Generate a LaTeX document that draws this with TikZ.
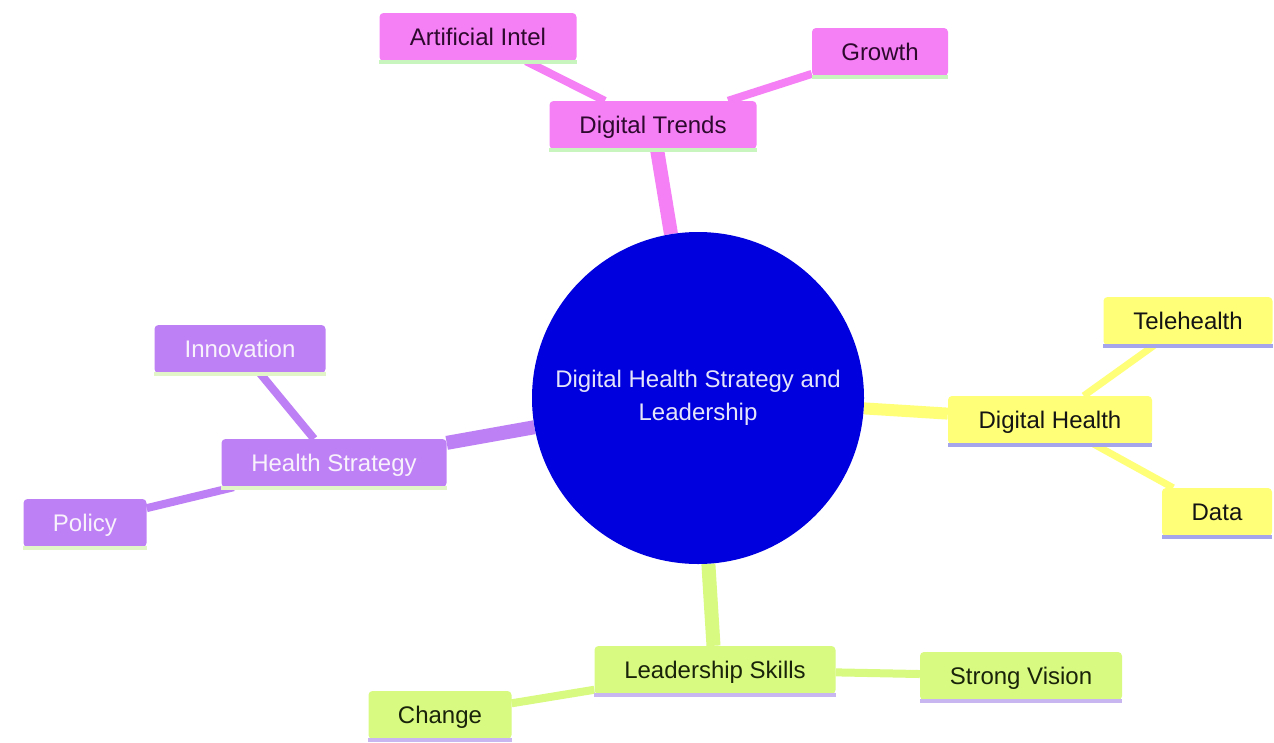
\documentclass[tikz,border=0pt]{standalone}
\usepackage{fontspec}
\setmainfont{Liberation Sans}
\usetikzlibrary{backgrounds}
\definecolor{pinkF}{RGB}{245,128,245}
\definecolor{pinkT}{RGB}{45,10,45}
\definecolor{pinkL}{RGB}{200,245,190}
\definecolor{purpF}{RGB}{190,128,245}
\definecolor{purpT}{RGB}{248,242,252}
\definecolor{purpL}{RGB}{225,245,200}
\definecolor{yelF}{RGB}{255,255,120}
\definecolor{yelT}{RGB}{20,20,20}
\definecolor{yelL}{RGB}{165,165,235}
\definecolor{limF}{RGB}{216,250,128}
\definecolor{limT}{RGB}{25,35,10}
\definecolor{limL}{RGB}{200,182,240}
\definecolor{blueF}{RGB}{0,0,222}
\definecolor{blueT}{RGB}{228,228,250}
\tikzset{
  box/.style={rectangle, rounded corners=4pt, minimum height=48pt, inner sep=0pt,
    text height=18pt, text depth=1pt, font=\fontsize{24}{28}\selectfont},
  pinkbox/.style={box, fill=pinkF, text=pinkT},
  purpbox/.style={box, fill=purpF, text=purpT},
  yelbox/.style={box, fill=yelF, text=yelT},
  limbox/.style={box, fill=limF, text=limT},
  mainedge/.style={line width=14pt},
  subedge/.style={line width=8pt}
}
\begin{document}
\begin{tikzpicture}[x=1pt,y=-1pt]
\useasboundingbox (0,0) rectangle (1274,742);
% center
\node[circle, fill=blueF, minimum size=332pt, inner sep=0pt, text=blueT, align=center,
      font=\fontsize{24}{33}\selectfont] (c) at (698,398) {Digital Health Strategy and\\Leadership};
% pink branch
\node[pinkbox, minimum width=197pt] (ai) at (478,37) {Artificial Intel};
\node[pinkbox, minimum width=136pt] (gr) at (880,52) {Growth};
\node[pinkbox, minimum width=207pt] (dt) at (653,125) {Digital Trends};
% yellow branch
\node[yelbox, minimum width=204pt] (dh) at (1050,420) {Digital Health};
\node[yelbox, minimum width=169pt] (th) at (1188,321) {Telehealth};
\node[yelbox, minimum width=110pt] (da) at (1217,512) {Data};
% purple branch
\node[purpbox, minimum width=225pt] (hs) at (334,463) {Health Strategy};
\node[purpbox, minimum width=171pt] (in) at (240,349) {Innovation};
\node[purpbox, minimum width=123pt] (po) at (85,523) {Policy};
% lime branch
\node[limbox, minimum width=241pt] (ls) at (715,670) {Leadership Skills};
\node[limbox, minimum width=202pt] (sv) at (1021,676) {Strong Vision};
\node[limbox, minimum width=143pt] (ch) at (440,715) {Change};
% bottom lines
\foreach \n/\col in {ai/pinkL,gr/pinkL,dt/pinkL,dh/yelL,th/yelL,da/yelL,hs/purpL,in/purpL,po/purpL,ls/limL,sv/limL,ch/limL}
  \fill[\col] ([yshift=1pt]\n.south west) rectangle ([yshift=-3pt]\n.south east);
% edges
\begin{scope}[on background layer]
\fill[white] (0,0) rectangle (1274,742);
\draw[mainedge, pinkF] (c) -- (dt);
\draw[subedge, pinkF] (dt) -- (ai);
\draw[subedge, pinkF] (dt) -- (gr);
\draw[mainedge, yelF, line width=12pt] (c) -- (dh);
\draw[subedge, yelF, line width=7pt] (dh) -- (th);
\draw[subedge, yelF, line width=7pt] (dh) -- (da);
\draw[mainedge, purpF] (c) -- (hs);
\draw[subedge, purpF] (hs) -- (in);
\draw[subedge, purpF] (hs) -- (po);
\draw[mainedge, limF] (c) -- (ls);
\draw[subedge, limF] (ls) -- (sv);
\draw[subedge, limF] (ls) -- (ch);
\end{scope}
\end{tikzpicture}
\end{document}
